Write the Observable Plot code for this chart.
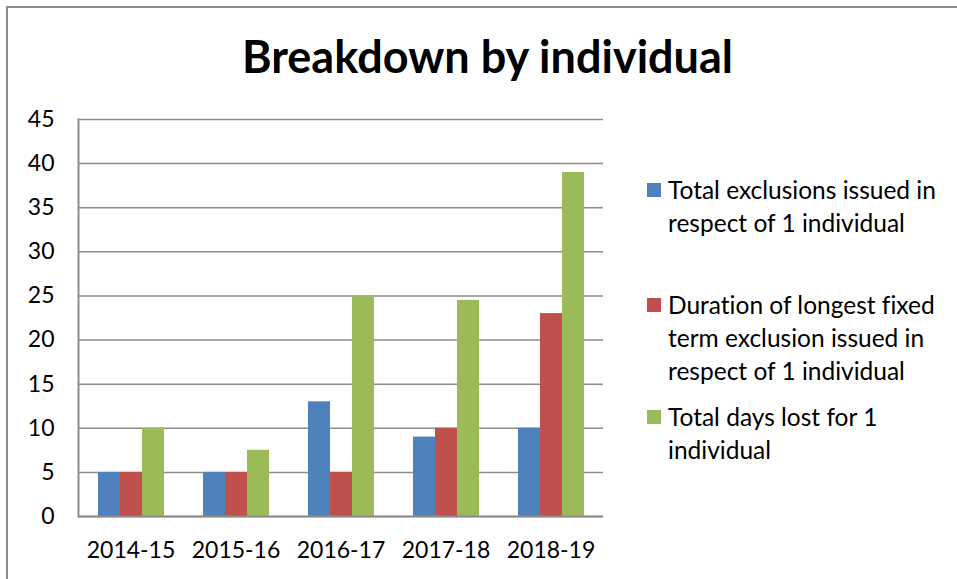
<!DOCTYPE html>
<html>
<head>
<meta charset="utf-8">
<script src="https://cdn.jsdelivr.net/npm/d3@7"></script>
<script src="https://cdn.jsdelivr.net/npm/@observablehq/plot@0.6"></script>
<style>
  html, body { margin: 0; padding: 0; background: #fff; }
  #wrap { position: relative; width: 957px; height: 579px; overflow: hidden; font-family: Lato, "Open Sans", sans-serif; font-variant-ligatures: none; }
  #border { position: absolute; left: 6px; top: 6px; width: 1000px; height: 1000px; border-left: 2px solid #8c8c8c; border-top: 2px solid #8c8c8c; box-sizing: border-box; }
  #title { position: absolute; left: 0; width: 975px; top: 29px; text-align: center; font-size: 45px; font-weight: bold; color: #000; }
  #chart { position: absolute; left: 0; top: 0; }
  #legend { position: absolute; left: 647px; top: 173px; font-size: 24.5px; color: #000; }
  .item { position: absolute; left: 0; width: 310px; line-height: 33px; }
  .sw { position: absolute; left: 0; top: 10px; width: 14px; height: 14px; }
  .lbl { position: absolute; left: 21px; top: 0; width: 300px; white-space: nowrap; }
  svg text { font-variant-ligatures: none; }
</style>
</head>
<body>
<div id="wrap">
  <div id="border"></div>
  <div id="chart"></div>
  <div id="title">Breakdown by individual</div>
  <div id="legend"></div>
</div>
<script>
const categories = ["2014-15", "2015-16", "2016-17", "2017-18", "2018-19"];
const seriesNames = [
  "Total exclusions issued in respect of 1 individual",
  "Duration of longest fixed term exclusion issued in respect of 1 individual",
  "Total days lost for 1 individual"
];
const totalExclusions = [5, 5, 13, 9, 10];
const longestDuration = [5, 5, 5, 10, 23];
const daysLost = [10, 7.5, 25, 24.5, 39];
const yTicks = [0, 5, 10, 15, 20, 25, 30, 35, 40, 45];
const colors = ["#4f81bd", "#c0504d", "#9bbb59"];
const legendLines = [
  ["Total exclusions issued in", "respect of 1 individual"],
  ["Duration of longest fixed", "term exclusion issued in", "respect of 1 individual"],
  ["Total days lost for 1", "individual"]
];

const seriesValues = [totalExclusions, longestDuration, daysLost];
const data = [];
categories.forEach((c, i) => {
  seriesNames.forEach((s, j) => data.push({cat: c, series: s, value: seriesValues[j][i]}));
});

const grid = "#8c8c8c";
const chart = Plot.plot({
  width: 957,
  height: 579,
  marginLeft: 76,
  marginRight: 352,
  marginTop: 119,
  marginBottom: 63,
  style: {fontFamily: "Lato, 'Open Sans', sans-serif", background: "transparent", color: "#000"},
  fx: {domain: categories, padding: 0, label: null},
  x: {domain: seriesNames, paddingInner: 0, paddingOuter: 0.8, axis: null},
  y: {domain: [0, 45], label: null},
  color: {domain: seriesNames, range: colors},
  marks: [
    Plot.gridY(yTicks, {stroke: grid, strokeOpacity: 1, strokeWidth: 1.5}),
    Plot.barY(data, {fx: "cat", x: "series", y: "value", fill: "series"}),
    Plot.ruleY([0], {stroke: grid, strokeWidth: 2}),
    Plot.frame({anchor: "left", stroke: grid, strokeWidth: 2, fx: () => categories[0]}),
    Plot.axisY(yTicks, {tickSize: 0, tickPadding: 24, fontSize: 23, label: null}),
    Plot.axisFx({anchor: "bottom", tickSize: 0, tickPadding: 25, fontSize: 23, label: null})
  ]
});
document.getElementById("chart").appendChild(chart);

const legend = document.getElementById("legend");
const itemTops = [0, 115, 227];
legendLines.forEach((lines, i) => {
  const item = document.createElement("div");
  item.className = "item";
  item.style.top = itemTops[i] + "px";
  const sw = document.createElement("div");
  sw.className = "sw";
  sw.style.background = colors[i];
  const lbl = document.createElement("div");
  lbl.className = "lbl";
  lbl.innerHTML = lines.join("<br>");
  item.appendChild(sw);
  item.appendChild(lbl);
  legend.appendChild(item);
});
</script>
</body>
</html>
